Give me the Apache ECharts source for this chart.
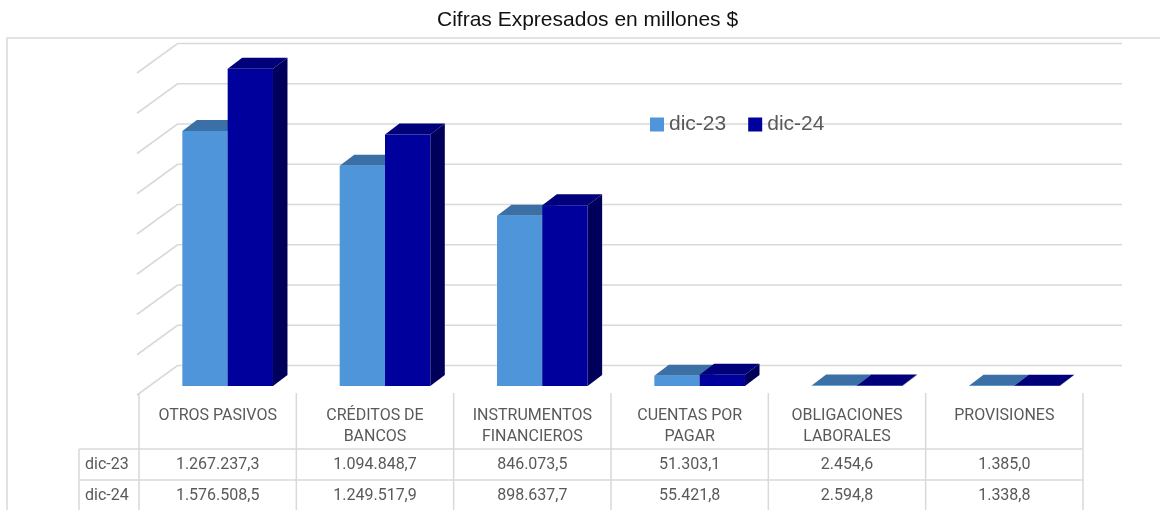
<!DOCTYPE html>
<html>
<head>
<meta charset="utf-8">
<script src="https://cdn.jsdelivr.net/npm/echarts@6/dist/echarts.min.js"></script>
<style>
html,body{margin:0;padding:0;background:#fff;}
#chart{width:1160px;height:510px;}
</style>
</head>
<body>
<div id="chart"></div>
<script>
// ---- data ----
const categories = ['OTROS PASIVOS', 'CRÉDITOS DE\nBANCOS', 'INSTRUMENTOS\nFINANCIEROS', 'CUENTAS POR\nPAGAR', 'OBLIGACIONES\nLABORALES', 'PROVISIONES'];
const seriesNames = ['dic-23', 'dic-24'];
const dic23 = [1267237.3, 1094848.7, 846073.5, 51303.1, 2454.6, 1385.0];
const dic24 = [1576508.5, 1249517.9, 898637.7, 55421.8, 2594.8, 1338.8];
const yTicks = [0, 200000, 400000, 600000, 800000, 1000000, 1200000, 1400000, 1600000];
const yMin = 0, yMax = 1600000, yInterval = 200000;
const titleText = 'Cifras Expresados en millones $';

// ---- helpers ----
function fmt(v) {
  const parts = v.toFixed(1).split('.');
  const intPart = parts[0].replace(/\B(?=(\d{3})+(?!\d))/g, '.');
  return intPart + ',' + parts[1];
}

const FRONT = {dx: 10, dy: -9};     // bar front plane offset from floor front
const DEPTH = {dx: 14.5, dy: -11};  // bar depth
const WALL = {dx: 38.5, dy: -29.5}; // back wall offset
const BAR_FRAC = 0.288;

const palette = [
  {front: '#4e95d9', top: '#3a70a6', side: '#2f5f8f'},
  {front: '#00009c', top: '#00007a', side: '#00005a'}
];

function makeBarRender(sIdx) {
  const col = palette[sIdx];
  return function (params, api) {
    const i = api.value(0), v = api.value(1);
    const base = api.coord([i, 0]);
    const topPt = api.coord([i, v]);
    const bw = api.size([1, 0])[0];
    const w = bw * BAR_FRAC;
    const center = base[0] + FRONT.dx;
    const x0 = sIdx === 0 ? center - w : center;
    const yb = base[1] + FRONT.dy;
    const yt = topPt[1] + FRONT.dy;
    const x1 = x0 + w;
    return {
      type: 'group',
      children: [
        {type: 'polygon', shape: {points: [[x1, yt], [x1 + DEPTH.dx, yt + DEPTH.dy], [x1 + DEPTH.dx, yb + DEPTH.dy], [x1, yb]]}, style: {fill: col.side}},
        {type: 'polygon', shape: {points: [[x0, yt], [x1, yt], [x1 + DEPTH.dx, yt + DEPTH.dy], [x0 + DEPTH.dx, yt + DEPTH.dy]]}, style: {fill: col.top}},
        {type: 'rect', shape: {x: x0, y: yt, width: w, height: Math.max(yb - yt, 0)}, style: {fill: col.front}}
      ]
    };
  };
}

function wallRender(params, api) {
  const cs = params.coordSys;
  const y = api.coord([0, api.value(1)])[1];
  return {
    type: 'polyline',
    shape: {points: [[cs.x - 2, y], [cs.x + WALL.dx, y + WALL.dy], [cs.x + cs.width + WALL.dx + 0.5, y + WALL.dy]]},
    style: {stroke: '#d9d9d9', lineWidth: 1.6, fill: null}
  };
}

const LINE = '#d9d9d9';
const TXT = '#595959';
function tableRender(params, api) {
  const i = api.value(0);
  const c = api.coord([i, 0]);
  const bw = api.size([1, 0])[0];
  const xl = c[0] - bw / 2, xr = c[0] + bw / 2;
  const yTop = c[1] - 2;
  const r1 = c[1] + 54, r2 = c[1] + 85, r3 = c[1] + 116;
  const labelLeft = 79;
  const ls = {stroke: LINE, lineWidth: 1.5};
  const ch = [];
  ch.push({type: 'line', shape: {x1: xr, y1: yTop, x2: xr, y2: r3 + 5}, style: ls});
  ch.push({type: 'line', shape: {x1: xl, y1: r1, x2: xr, y2: r1}, style: ls});
  ch.push({type: 'line', shape: {x1: xl, y1: r2, x2: xr, y2: r2}, style: ls});
  ch.push({type: 'line', shape: {x1: xl, y1: r3, x2: xr, y2: r3}, style: ls});
  const tf = {fontFamily: 'Roboto', fontSize: 16, fill: TXT, align: 'center', verticalAlign: 'middle'};
  ch.push({type: 'text', style: Object.assign({x: c[0], y: (r1 + r2) / 2, text: fmt(api.value(2))}, tf)});
  ch.push({type: 'text', style: Object.assign({x: c[0], y: (r2 + r3) / 2, text: fmt(api.value(3))}, tf)});
  if (i === 0) {
    ch.push({type: 'line', shape: {x1: xl, y1: yTop, x2: xl, y2: r3 + 5}, style: ls});
    ch.push({type: 'line', shape: {x1: labelLeft, y1: r1, x2: labelLeft, y2: r3 + 5}, style: ls});
    ch.push({type: 'line', shape: {x1: labelLeft, y1: r1, x2: xl, y2: r1}, style: ls});
    ch.push({type: 'line', shape: {x1: labelLeft, y1: r2, x2: xl, y2: r2}, style: ls});
    ch.push({type: 'line', shape: {x1: labelLeft, y1: r3, x2: xl, y2: r3}, style: ls});
    const lf = {fontFamily: 'Roboto', fontSize: 16, fill: TXT, align: 'left', verticalAlign: 'middle'};
    ch.push({type: 'text', style: Object.assign({x: labelLeft + 6, y: (r1 + r2) / 2, text: seriesNames[0]}, lf)});
    ch.push({type: 'text', style: Object.assign({x: labelLeft + 6, y: (r2 + r3) / 2, text: seriesNames[1]}, lf)});
  }
  return {type: 'group', children: ch};
}

const chart = echarts.init(document.getElementById('chart'), null, {renderer: 'canvas'});
const option = {
  backgroundColor: '#fff',
  animation: false,
  title: {
    text: titleText, left: 437, top: 10, padding: 0,
    textStyle: {fontFamily: 'Liberation Sans', fontSize: 21, fontWeight: 'normal', color: '#111'}
  },
  legend: {
    data: seriesNames, left: 645, top: 109, icon: 'rect', itemWidth: 14, itemHeight: 14, itemGap: 22,
    textStyle: {fontFamily: 'Liberation Sans', fontSize: 21, color: TXT}
  },
  graphic: [{
    type: 'rect', z: -10, silent: true,
    shape: {x: 7, y: 38, width: 1200, height: 520},
    style: {fill: null, stroke: LINE, lineWidth: 1.5}
  }],
  grid: {left: 139, right: 77, top: 73, bottom: 115, containLabel: false},
  xAxis: {
    type: 'category', data: categories,
    axisLine: {show: false}, axisTick: {show: false}, splitLine: {show: false},
    axisLabel: {interval: 0, margin: 10, fontFamily: 'Roboto', fontSize: 16, lineHeight: 21, color: TXT}
  },
  yAxis: {
    type: 'value', min: yMin, max: yMax, interval: yInterval,
    axisLine: {show: false}, axisTick: {show: false}, axisLabel: {show: false}, splitLine: {show: false}
  },
  series: [
    {type: 'custom', name: 'wall', z: 1, clip: false, renderItem: wallRender, data: yTicks.map(v => [0, v]), encode: {x: 0, y: 1}, silent: true},
    {type: 'custom', name: seriesNames[0], z: 2, clip: false, renderItem: makeBarRender(0), itemStyle: {color: palette[0].front},
      data: dic23.map((v, i) => [i, v]), encode: {x: 0, y: 1}},
    {type: 'custom', name: seriesNames[1], z: 3, clip: false, renderItem: makeBarRender(1), itemStyle: {color: palette[1].front},
      data: dic24.map((v, i) => [i, v]), encode: {x: 0, y: 1}},
    {type: 'custom', name: 'table', z: 4, clip: false, renderItem: tableRender, silent: true,
      data: categories.map((c, i) => [i, 0, dic23[i], dic24[i]]), encode: {x: 0, y: 1}}
  ]
};
chart.setOption(option);
</script>
</body>
</html>
